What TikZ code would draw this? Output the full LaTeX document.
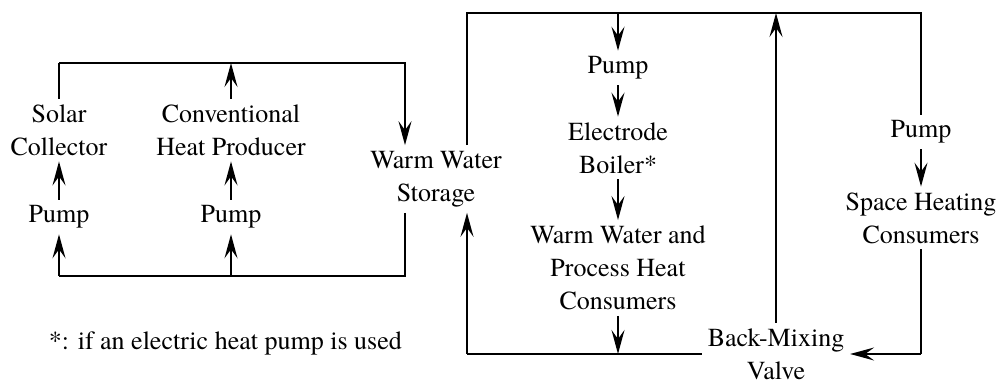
\documentclass[tikz,border=0pt]{standalone}
\usepackage{fontspec}
\setmainfont{texgyretermes}[Extension=.otf, UprightFont=*-regular, BoldFont=*-bold, ItalicFont=*-italic, BoldItalicFont=*-bolditalic]
\usetikzlibrary{arrows.meta}

\tikzset{
  unit/.style={align=center, inner sep=2.5pt, font=\fontsize{13}{16.5}\selectfont},
  flow/.style={-{Stealth[length=12pt, width=6.5pt, inset=4.5pt]}},
  pipe/.style={line width=0.9pt}
}

\begin{document}
\begin{tikzpicture}[x=0.5pt, y=-0.5pt, pipe]
                \useasboundingbox (0,0) rectangle (1001,384);

                % Producer loop
                \node[unit] (solar) at (59,130) {Solar\\Collector};
                \node[unit] (pumpA) at (59,217) {Pump};
                \node[unit] (conv) at (231,130) {Conventional\\Heat Producer};
                \node[unit] (pumpB) at (231,217) {Pump};
                \node[unit] (storage) at (436,179) {Warm Water\\Storage};

                % Consumer loop
                \node[unit] (pumpC) at (618,68) {Pump};
                \node[unit] (boiler) at (618,148) {Electrode\\Boiler*};
                \node[unit] (wwc) at (618,268) {Warm Water and\\Process Heat\\Consumers};
                \node[unit] (valve) at (776,354) {Back-Mixing\\Valve};
                \node[unit] (pumpD) at (921,132) {Pump};
                \node[unit] (space) at (921,218) {Space Heating\\Consumers};

                % Footnote
                \node[unit, anchor=west] (note) at (43,343) {*: if an electric heat pump is used};

                % Pipe corners
                \coordinate (aTL) at (59,63);
                \coordinate (aTM) at (231,63);
                \coordinate (aTR) at (405,63);
                \coordinate (aBL) at (59,276);
                \coordinate (aBM) at (231,276);
                \coordinate (aBR) at (405,276);
                \coordinate (bTL) at (467,13);
                \coordinate (bTC) at (618,13);
                \coordinate (bTV) at (776,13);
                \coordinate (bTR) at (921,13);
                \coordinate (bBL) at (467,354);
                \coordinate (bBC) at (618,354);
                \coordinate (bBR) at (921,354);

                % Producer loop pipes
                \draw (solar) -- (aTL);
                \draw[flow] (aTL) -- (aTR) -- (aTR |- storage.north);
                \draw (storage.south -| aBR) -- (aBR) -- (aBL);
                \draw[flow] (aBL) -- (pumpA);
                \draw[flow] (pumpA) -- (solar);
                \draw[flow] (aBM) -- (pumpB);
                \draw[flow] (pumpB) -- (conv);
                \draw[flow] (conv) -- (aTM);

                % Consumer loop pipes
                \draw (storage.north -| bTL) -- (bTL) -- (bTR) -- (pumpD);
                \draw[flow] (pumpD) -- (space);
                \draw (space) -- (bBR);
                \draw[flow] (bBR) -- (valve);
                \draw (valve) -- (bBL);
                \draw[flow] (bBL) -- (storage.south -| bBL);
                \draw[flow] (bTC) -- (pumpC);
                \draw[flow] (pumpC) -- (boiler);
                \draw[flow] (boiler) -- (wwc);
                \draw[flow] (wwc) -- (bBC);
                \draw[flow] (valve) -- (bTV);
            \end{tikzpicture}
\end{document}
